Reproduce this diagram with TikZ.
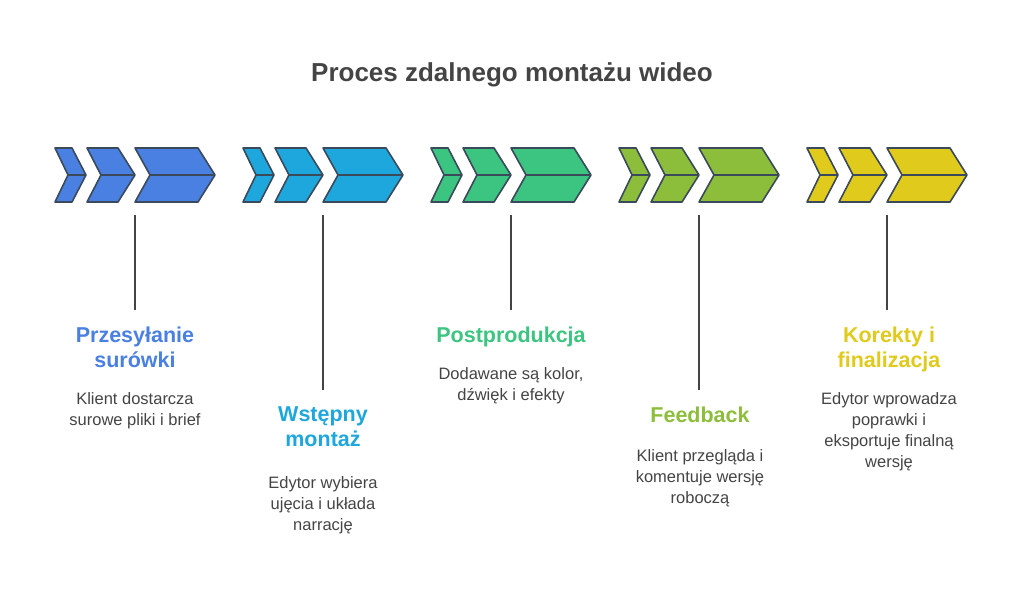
\documentclass[tikz,border=0pt]{standalone}
\usepackage{fontspec}
\setmainfont{Liberation Sans}
\definecolor{cA}{HTML}{4A80E2}
\definecolor{cB}{HTML}{1EA7DD}
\definecolor{cC}{HTML}{3CC580}
\definecolor{cD}{HTML}{8DBE3B}
\definecolor{cE}{HTML}{E0CA1C}
\definecolor{edge}{HTML}{3A4A5A}
\definecolor{txt}{HTML}{444444}
\begin{document}
\begin{tikzpicture}[x=1pt,y=-1pt,
  chev/.style={draw=edge,line width=1.6pt,line join=round},
  stem/.style={draw=txt,line width=1.5pt},
  ttl/.style={font=\fontsize{21.5}{25}\selectfont\bfseries,align=center,anchor=north,inner sep=0pt},
  dsc/.style={font=\fontsize{16.5}{21}\selectfont,text=txt,align=center,anchor=north,inner sep=0pt}]
\useasboundingbox (0,0) rectangle (1024,593);
\node[font=\fontsize{26}{30}\selectfont\bfseries,text=txt] (title) at (512,75) {Proces zdalnego montażu wideo};
\foreach \i/\c/\L in {0/cA/310,1/cB/390,2/cC/310,3/cD/390,4/cE/310}{
  \begin{scope}[xshift=\i*188]
  \foreach \a/\b/\t/\n in {55/72/86/68, 87/118/135/101, 135/198/215/150}{
    \path[chev,fill=\c] (\a,148) -- (\b,148) -- (\t,175) -- (\b,202) -- (\a,202) -- (\n,175) -- cycle;
    \draw[edge,line width=1.3pt] (\n,175) -- (\t,175);
  }
  \coordinate (s\i) at (135,215);
  \coordinate (e\i) at (135,\L);
  \draw[stem] (s\i) -- (e\i);
  \end{scope}
}
\node[ttl,text=cA] (t1) at (135,327) {Przesyłanie\\surówki};
\node[dsc] (d1) at (135,392) {Klient dostarcza\\surowe pliki i brief};
\node[ttl,text=cB] (t2) at (323,407) {Wstępny\\montaż};
\node[dsc] (d2) at (323,476) {Edytor wybiera\\ujęcia i układa\\narrację};
\node[ttl,text=cC] (t3) at (511,327) {Postprodukcja};
\node[dsc] (d3) at (511,367) {Dodawane są kolor,\\dźwięk i efekty};
\node[ttl,text=cD] (t4) at (700,407) {Feedback};
\node[dsc] (d4) at (700,449) {Klient przegląda i\\komentuje wersję\\roboczą};
\node[ttl,text=cE] (t5) at (889,327) {Korekty i\\finalizacja};
\node[dsc] (d5) at (889,392) {Edytor wprowadza\\poprawki i\\eksportuje finalną\\wersję};
\end{tikzpicture}
\end{document}
